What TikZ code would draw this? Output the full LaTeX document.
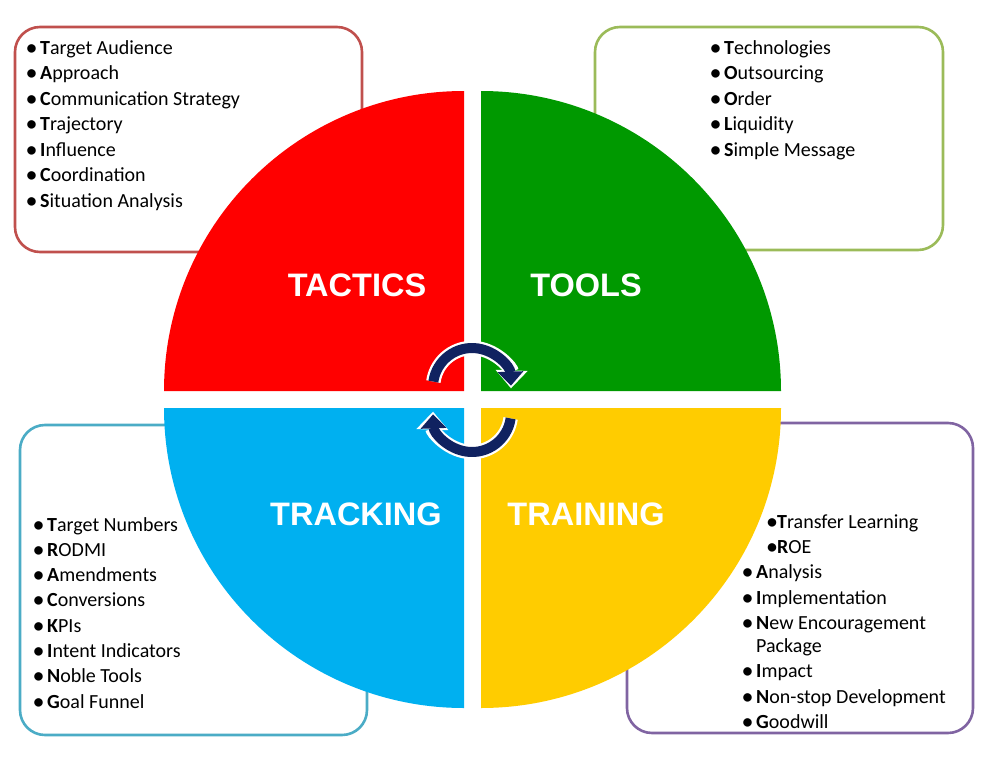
\documentclass[tikz,border=0pt]{standalone}
\usepackage{fontspec}
\setmainfont{Carlito}
\newfontfamily\labelfont{Liberation Sans}
\usetikzlibrary{arrows.meta}
\definecolor{qred}{RGB}{255,0,0}
\definecolor{qgreen}{RGB}{0,153,0}
\definecolor{qblue}{RGB}{0,176,240}
\definecolor{qyellow}{RGB}{255,204,0}
\definecolor{bred}{RGB}{192,80,77}
\definecolor{bgreen}{RGB}{155,187,89}
\definecolor{bblue}{RGB}{75,172,198}
\definecolor{bpurple}{RGB}{128,100,162}
\definecolor{navy}{RGB}{16,34,96}
\tikzset{
  infobox/.style={draw=#1, line width=2.6pt, rounded corners=25pt, fill=white, inner sep=0pt},
  item/.style={anchor=base west, inner sep=0pt, font=\fontsize{20}{24}\selectfont},
  quadlabel/.style={anchor=base, inner sep=0pt, text=white, font=\labelfont\bfseries\fontsize{32.5}{36}\selectfont},
}
\newcommand{\bul}{\llap{\textbf{•}\hspace{3.5pt}}}
\newcommand{\bultight}{\llap{\textbf{•}}}
\begin{document}
\begin{tikzpicture}[x=1pt,y=-1pt]
\useasboundingbox (0,0) rectangle (983,763);
% boxes
\node[infobox=bred, minimum width=347pt, minimum height=225pt] (boxtl) at (188.5,139.5) {};
\node[infobox=bgreen, minimum width=348pt, minimum height=223pt] (boxtr) at (769,138.5) {};
\node[infobox=bblue, minimum width=347pt, minimum height=310pt] (boxbl) at (193.5,580) {};
\node[infobox=bpurple, minimum width=346pt, minimum height=310pt] (boxbr) at (800,578) {};
% quadrants
\fill[qred] (464,391) -- ++(-300,0) arc[start angle=180, end angle=270, radius=300] -- cycle;
\fill[qgreen] (481,391) -- ++(300,0) arc[start angle=0, end angle=-90, radius=300] -- cycle;
\fill[qblue] (464,408) -- ++(-300,0) arc[start angle=180, end angle=90, radius=300] -- cycle;
\fill[qyellow] (481,408) -- ++(300,0) arc[start angle=0, end angle=90, radius=300] -- cycle;
% labels
\node[quadlabel] (tactics) at (357,296) {TACTICS};
\node[quadlabel] (tools) at (586,296) {TOOLS};
\node[quadlabel] (tracking) at (356,525) {TRACKING};
\node[quadlabel] (training) at (586,525) {TRAINING};
% cycle arrows
\coordinate (ctop) at (472,387);
\coordinate (cbot) at (472,413);
\draw[white, line width=14.5pt, -{Triangle[length=18pt,width=31pt]}] (ctop) ++(188:39) arc[start angle=188, end angle=362, radius=39];
\draw[navy, line width=10pt, -{Triangle[length=14pt,width=25pt]}] (ctop) ++(188:39) arc[start angle=188, end angle=358, radius=39];
\draw[white, line width=14.5pt, -{Triangle[length=18pt,width=31pt]}] (cbot) ++(8:39) arc[start angle=8, end angle=182, radius=39];
\draw[navy, line width=10pt, -{Triangle[length=14pt,width=25pt]}] (cbot) ++(8:39) arc[start angle=8, end angle=178, radius=39];
% top-left list
\foreach \a/\b [count=\i] in {T/arget Audience, A/pproach, C/ommunication Strategy, T/rajectory, I/nfluence, C/oordination, S/ituation Analysis}
  \node[item] (tl\i) at (40,{54+25.5*(\i-1)}) {\bul\textbf{\a}\b};
% top-right list
\foreach \a/\b [count=\i] in {T/echnologies, O/utsourcing, O/rder, L/iquidity, S/imple Message}
  \node[item] (tr\i) at (724,{54+25.5*(\i-1)}) {\bul\textbf{\a}\b};
% bottom-left list
\foreach \a/\b [count=\i] in {T/arget Numbers, R/ODMI, A/mendments, C/onversions, K/PIs, I/ntent Indicators, N/oble Tools, G/oal Funnel}
  \node[item] (bl\i) at (47,{531+25.3*(\i-1)}) {\bul\textbf{\a}\b};
% bottom-right list
\node[item] (br1) at (777,528) {\bultight\textbf{T}ransfer Learning};
\node[item] (br2) at (777,553) {\bultight\textbf{R}OE};
\node[item] (br3) at (756,578) {\bul\textbf{A}nalysis};
\node[item] (br4) at (756,604) {\bul\textbf{I}mplementation};
\node[item] (br5) at (756,629.5) {\bul\textbf{N}ew Encouragement};
\node[item] (br6) at (756,652) {Package};
\node[item] (br7) at (756,677) {\bul\textbf{I}mpact};
\node[item] (br8) at (756,703) {\bul\textbf{N}on-stop Development};
\node[item] (br9) at (756,728) {\bul\textbf{G}oodwill};
\end{tikzpicture}
\end{document}
